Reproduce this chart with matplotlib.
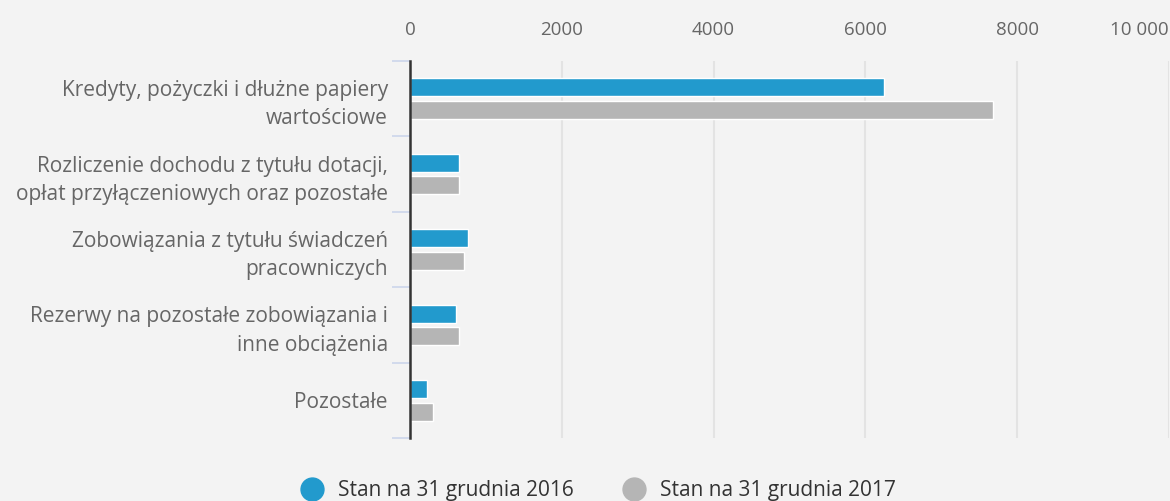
import matplotlib
matplotlib.use("Agg")
import matplotlib.pyplot as plt
from matplotlib.lines import Line2D
import numpy as np

categories = [
    "Kredyty, pożyczki i dłużne papiery\nwartościowe",
    "Rozliczenie dochodu z tytułu dotacji,\nopłat przyłączeniowych oraz pozostałe",
    "Zobowiązania z tytułu świadczeń\npracowniczych",
    "Rezerwy na pozostałe zobowiązania i\ninne obciążenia",
    "Pozostałe",
]
series_2016 = [6250, 640, 770, 610, 225]
series_2017 = [7675, 640, 715, 640, 300]
series_names = ["Stan na 31 grudnia 2016", "Stan na 31 grudnia 2017"]
tick_values = [0, 2000, 4000, 6000, 8000, 10000]
tick_labels = ["0", "2000", "4000", "6000", "8000", "10 000"]

FONT = ['Open Sans', 'DejaVu Sans']
plt.rcParams['font.family'] = FONT
BG = "#f3f3f3"
C1 = "#229acd"
C2 = "#b5b5b5"

fig = plt.figure(figsize=(11.7, 5.01), dpi=100, facecolor=BG)
ax = fig.add_axes([410/1170, (501-438)/501, (1169-410)/1170, (438-61)/501])
ax.set_facecolor(BG)

y = np.arange(len(categories))
h = 0.24
ax.barh(y - 0.15, series_2016, height=h, color=C1, edgecolor="white", linewidth=1, zorder=3)
ax.barh(y + 0.15, series_2017, height=h, color=C2, edgecolor="white", linewidth=1, zorder=3)

ax.set_xlim(0, 10000)
ax.set_ylim(len(categories) - 0.5, -0.5)
ax.xaxis.tick_top()
ax.set_xticks(tick_values)
ax.set_xticklabels(tick_labels)
ax.tick_params(axis='x', length=0, pad=16, labelsize=13.5, labelcolor="#666666")
ax.get_xticklabels()[-1].set_horizontalalignment('right')
ax.grid(axis='x', color="#e3e3e3", linewidth=1.5, zorder=0)

ax.set_yticks(np.arange(len(categories) + 1) - 0.5, minor=True)
ax.set_yticks(y)
ax.set_yticklabels(categories, fontsize=15, color="#666666", linespacing=1.45)
ax.tick_params(axis='y', which='major', length=0, pad=16)
ax.tick_params(axis='y', which='minor', length=13, width=1.2, color="#ccd6eb")

for s in ["top", "right", "bottom"]:
    ax.spines[s].set_visible(False)
ax.spines["left"].set_color("#333333")
ax.spines["left"].set_linewidth(1.8)
ax.spines["left"].set_zorder(5)

handles = [Line2D([], [], marker='o', linestyle='', markersize=16.5, color=C1),
           Line2D([], [], marker='o', linestyle='', markersize=16.5, color=C2)]
fig.legend(handles, series_names, loc='center', bbox_to_anchor=(0.512, 0.02), ncol=2,
           frameon=False, fontsize=15, labelcolor="#333333", handletextpad=0.75,
           columnspacing=2.4, handlelength=1.0, borderpad=0)

fig.savefig("out.png", dpi=100, facecolor=BG)
